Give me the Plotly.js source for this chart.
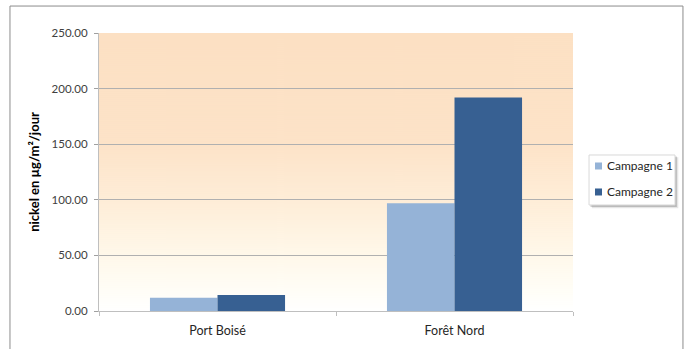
<!DOCTYPE html>
<html>
<head>
<meta charset="utf-8">
<script src="https://cdn.plot.ly/plotly-3.0.1.min.js"></script>
<style>html,body{margin:0;padding:0;background:#fff;}#chart{width:689px;height:349px;}</style>
</head>
<body>
<div id="chart"></div>
<script>
const categories = ["Port Boisé", "Forêt Nord"];
const seriesNames = ["Campagne 1", "Campagne 2"];
const seriesColors = ["#95B3D7", "#376092"];
const campagne1 = [12.0, 97.0];
const campagne2 = [14.5, 192.0];
const yTickVals = [0, 50, 100, 150, 200, 250];
const yTickText = ["0.00", "50.00", "100.00", "150.00", "200.00", "250.00"];

function gradientURI() {
  const c = document.createElement('canvas');
  c.width = 4; c.height = 278;
  const g = c.getContext('2d');
  const gr = g.createLinearGradient(0, 0, 0, 278);
  gr.addColorStop(0.0, '#FCE0C3');
  gr.addColorStop(0.40, '#FDE3C8');
  gr.addColorStop(0.62, '#FEEED9');
  gr.addColorStop(0.80, '#FFF8EA');
  gr.addColorStop(0.92, '#FFFDF6');
  gr.addColorStop(1.0, '#FFFFFF');
  g.fillStyle = gr; g.fillRect(0, 0, 4, 278);
  return c.toDataURL('image/png');
}

const font = 'Lato, "Open Sans", sans-serif';
const data = [
  {type: 'bar', name: seriesNames[0], x: categories, y: campagne1, marker: {color: seriesColors[0]}},
  {type: 'bar', name: seriesNames[1], x: categories, y: campagne2, marker: {color: seriesColors[1]}}
];

// Custom legend (Excel-style) placed right of the plot area, in paper coordinates
const legBox = {x0: 1.0338, x1: 1.2152, y0: 0.3813, y1: 0.5612};
const legRowY = [0.5216, 0.4281];
const legendShapes = [
  {type: 'rect', xref: 'paper', yref: 'paper', x0: legBox.x0 + 0.006, x1: legBox.x1 + 0.007, y0: legBox.y0 - 0.012, y1: legBox.y1 - 0.008,
   line: {width: 0}, fillcolor: 'rgba(0,0,0,0.10)', layer: 'above'},
  {type: 'rect', xref: 'paper', yref: 'paper', x0: legBox.x0 + 0.003, x1: legBox.x1 + 0.004, y0: legBox.y0 - 0.007, y1: legBox.y1 - 0.005,
   line: {width: 0}, fillcolor: 'rgba(0,0,0,0.18)', layer: 'above'},
  {type: 'rect', xref: 'paper', yref: 'paper', x0: legBox.x0, x1: legBox.x1, y0: legBox.y0, y1: legBox.y1,
   line: {color: '#D9D9D9', width: 1}, fillcolor: '#ffffff', layer: 'above'}
];
const legendAnnots = [];
seriesNames.forEach((n, i) => {
  legendShapes.push({type: 'rect', xref: 'paper', yref: 'paper', x0: 1.0464, x1: 1.0612,
    y0: legRowY[i] - 0.0126, y1: legRowY[i] + 0.0126, line: {width: 0}, fillcolor: seriesColors[i], layer: 'above'});
  legendAnnots.push({xref: 'paper', yref: 'paper', x: 1.0675, y: legRowY[i], xanchor: 'left', yanchor: 'middle',
    text: n, showarrow: false, font: {family: font, size: 12, color: '#262626'}});
});

const layout = {
  width: 689, height: 349,
  margin: {l: 99, r: 116, t: 33, b: 38, pad: 0, autoexpand: false},
  paper_bgcolor: '#ffffff', plot_bgcolor: 'rgba(0,0,0,0)',
  barmode: 'group', bargap: 0.43, bargroupgap: 0,
  font: {family: font, size: 12, color: '#404040'},
  showlegend: false,
  xaxis: {type: 'category', showgrid: false, showline: true, linecolor: '#BFBFBF', linewidth: 1,
          ticks: 'outside', tickson: 'boundaries', ticklen: 4, tickcolor: '#BFBFBF', ticklabelstandoff: 8,
          tickfont: {family: font, size: 12.5, color: '#262626'}, fixedrange: true},
  yaxis: {range: [0, 250], tickvals: yTickVals, ticktext: yTickText, showgrid: true,
          gridcolor: '#B0B0B0', gridwidth: 1, showline: true, linecolor: '#BFBFBF',
          ticks: 'outside', ticklen: 4, tickcolor: '#A0A0A0', zeroline: false, ticklabelstandoff: 4,
          tickfont: {family: font, size: 11.5, color: '#404040'},
          title: {text: 'nickel en µg/m²/jour', standoff: 9, font: {family: font, size: 13, color: '#000000', weight: 'bold'}},
          fixedrange: true},
  images: [{source: gradientURI(), xref: 'paper', yref: 'paper', x: 0, y: 1, sizex: 1, sizey: 1,
            sizing: 'stretch', layer: 'below', xanchor: 'left', yanchor: 'top'}],
  shapes: [
    {type: 'rect', xref: 'paper', yref: 'paper', x0: -0.1878, x1: 1.232, y0: -0.2, y1: 1.097,
     line: {color: '#8C8C8C', width: 1}, fillcolor: 'rgba(0,0,0,0)', layer: 'below'}
  ].concat(legendShapes),
  annotations: legendAnnots
};
Plotly.newPlot('chart', data, layout, {displayModeBar: false, staticPlot: true});
</script>
</body>
</html>
